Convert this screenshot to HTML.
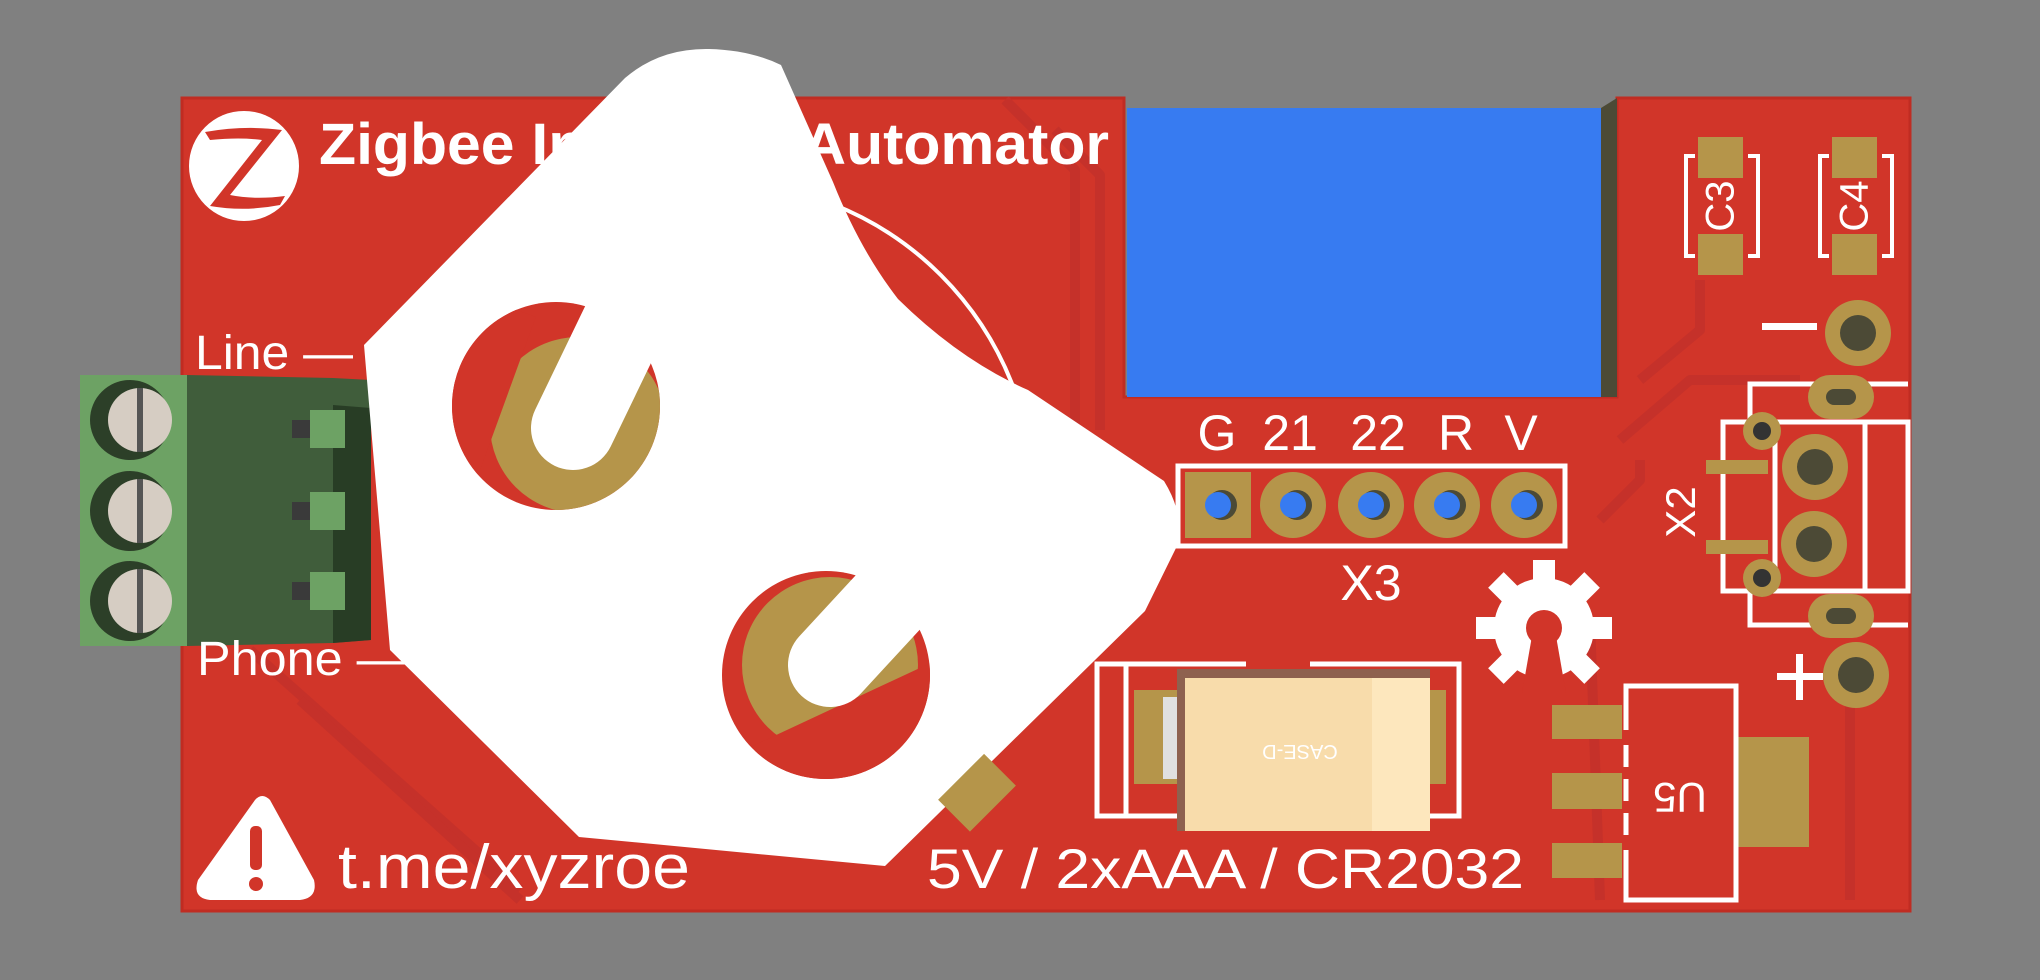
<!DOCTYPE html>
<html><head><meta charset="utf-8"><style>
html,body{margin:0;padding:0;background:#808080;}
svg{display:block;}
text{font-family:"Liberation Sans",sans-serif;fill:#fff;}
</style></head><body>
<svg width="2040" height="980" viewBox="0 0 2040 980" xmlns="http://www.w3.org/2000/svg">
<defs>
<clipPath id="h1"><circle cx="556" cy="406" r="104"/></clipPath>
<clipPath id="h2"><circle cx="826" cy="675" r="104"/></clipPath>
</defs>
<rect width="2040" height="980" fill="#808080"/>
<!-- board -->
<path d="M182,98 L1124,98 L1124,397 L1617,397 L1617,98 L1910,98 L1910,911 L182,911 Z" fill="#d13529" stroke="#c02c22" stroke-width="3"/>
<!-- traces -->
<g fill="none" stroke="#c5312a" stroke-width="10" stroke-linejoin="round">
<path d="M1005,100 L1075,170 L1075,520 L1020,575"/>
<path d="M1055,130 L1100,175 L1100,430"/>
<path d="M1640,380 L1700,330 L1700,280"/>
<path d="M1620,440 L1690,380 L1800,380"/>
<path d="M1600,520 L1640,480 L1640,460"/>
<path d="M250,650 L520,890"/>
<path d="M300,700 L520,900"/>
<path d="M1590,620 L1600,900"/>
<path d="M1850,700 L1850,900"/>
</g>
<!-- blue module -->
<rect x="1127" y="108" width="474" height="289" fill="#377bf1"/>
<polygon points="1601,108 1617,98 1617,397 1601,397" fill="#4c4a36"/>
<!-- silkscreen ring -->
<circle cx="716" cy="500" r="318" fill="none" stroke="#fff" stroke-width="4"/>
<!-- terminal block -->
<rect x="80" y="375" width="107" height="271" fill="#6da264"/>
<polygon points="187,375 333,378 371,380 371,640 333,643 187,646" fill="#405d3b"/>
<polygon points="333,405 371,408 371,640 333,643" fill="#283d25"/>
<g>
<circle cx="130" cy="420" r="40" fill="#2c3f28"/><circle cx="140" cy="420" r="32" fill="#d6cdc3"/><rect x="137" y="388" width="6" height="64" fill="#555"/>
<circle cx="130" cy="511" r="40" fill="#2c3f28"/><circle cx="140" cy="511" r="32" fill="#d6cdc3"/><rect x="137" y="479" width="6" height="64" fill="#555"/>
<circle cx="130" cy="601" r="40" fill="#2c3f28"/><circle cx="140" cy="601" r="32" fill="#d6cdc3"/><rect x="137" y="569" width="6" height="64" fill="#555"/>
</g>
<g fill="#6da264"><rect x="310" y="410" width="35" height="38"/><rect x="310" y="492" width="35" height="38"/><rect x="310" y="572" width="35" height="38"/></g>
<g fill="#3a3a3a"><rect x="292" y="420" width="18" height="18"/><rect x="292" y="502" width="18" height="18"/><rect x="292" y="582" width="18" height="18"/></g>
<!-- zigbee logo -->
<circle cx="244" cy="166" r="55" fill="#fff"/>
<path d="M205,132 Q245,125 282,130 L230,195 Q255,200 285,196 L280,205 Q245,212 210,206 L262,140 Q240,137 210,140 Z" fill="#d13529"/>
<!-- texts -->
<text x="319" y="164" font-size="58" font-weight="bold" textLength="790" lengthAdjust="spacingAndGlyphs">Zigbee Intercom Automator</text>
<text x="195" y="369" font-size="48" textLength="158" lengthAdjust="spacingAndGlyphs">Line —</text>
<text x="197" y="675" font-size="48" textLength="210" lengthAdjust="spacingAndGlyphs">Phone —</text>
<!-- warning -->
<path d="M255,800 Q262,792 270,800 L314,880 Q318,898 300,900 L210,900 Q192,898 198,880 Z" fill="#fff"/>
<rect x="250" y="826" width="12" height="44" rx="5" fill="#d13529"/>
<circle cx="256" cy="884" r="7" fill="#d13529"/>
<text x="338" y="888" font-size="62" textLength="352" lengthAdjust="spacingAndGlyphs">t.me/xyzroe</text>
<text x="927" y="888" font-size="56" textLength="597" lengthAdjust="spacingAndGlyphs">5V / 2xAAA / CR2032</text>
<!-- white bracket -->
<path d="M364,345 L625,78 Q660,48 709,49 Q750,50 781,65 L833,182 Q860,250 898,299 Q960,360 1028,390 L1164,481 Q1185,515 1177,546 L1145,611 L885,866 L579,837 L390,650 Z" fill="#fff"/>
<!-- holes -->
<circle cx="556" cy="406" r="104" fill="#d13529"/>
<g clip-path="url(#h1)"><circle cx="578" cy="425" r="88" fill="#b5954a"/><rect x="440" y="300" width="60" height="220" fill="#d13529" transform="rotate(20 470 410)"/></g>
<circle cx="826" cy="675" r="104" fill="#d13529"/>
<g clip-path="url(#h2)"><circle cx="830" cy="665" r="88" fill="#b5954a"/><rect x="760" y="700" width="200" height="100" fill="#d13529" transform="rotate(-25 860 740)"/></g>
<g stroke="#fff" stroke-width="84" stroke-linecap="round">
<line x1="573" y1="428" x2="683" y2="200"/>
<line x1="830" y1="665" x2="1010" y2="470"/>
</g>
<!-- X3 header -->
<rect x="1178" y="466" width="387" height="80" fill="none" stroke="#fff" stroke-width="5"/>
<rect x="1185" y="472" width="66" height="66" fill="#b5954a"/>
<g fill="#b5954a"><circle cx="1293" cy="505" r="33"/><circle cx="1371" cy="505" r="33"/><circle cx="1447" cy="505" r="33"/><circle cx="1524" cy="505" r="33"/></g>
<g fill="#4c4a36"><circle cx="1222" cy="505" r="15"/><circle cx="1297" cy="505" r="15"/><circle cx="1375" cy="505" r="15"/><circle cx="1451" cy="505" r="15"/><circle cx="1528" cy="505" r="15"/></g>
<g fill="#377bf1"><circle cx="1218" cy="505" r="13"/><circle cx="1293" cy="505" r="13"/><circle cx="1371" cy="505" r="13"/><circle cx="1447" cy="505" r="13"/><circle cx="1524" cy="505" r="13"/></g>
<g font-size="50" text-anchor="middle"><text x="1217" y="450">G</text><text x="1290" y="450">21</text><text x="1378" y="450">22</text><text x="1456" y="450">R</text><text x="1521" y="450">V</text><text x="1371" y="600">X3</text></g>
<!-- C3 C4 -->
<g fill="#b5954a"><rect x="1698" y="137" width="45" height="41"/><rect x="1698" y="234" width="45" height="41"/><rect x="1832" y="137" width="45" height="41"/><rect x="1832" y="234" width="45" height="41"/></g>
<g fill="none" stroke="#fff" stroke-width="4">
<path d="M1695,156 H1686 V256 H1695 M1748,156 H1758 V256 H1748"/>
<path d="M1829,156 H1820 V256 H1829 M1882,156 H1892 V256 H1882"/>
</g>
<text x="1723" y="206" font-size="40" text-anchor="middle" dominant-baseline="middle" transform="rotate(-90 1723 206)">C3</text>
<text x="1857" y="206" font-size="40" text-anchor="middle" dominant-baseline="middle" transform="rotate(-90 1857 206)">C4</text>
<!-- X2 -->
<rect x="1762" y="323" width="55" height="7" fill="#fff"/>
<rect x="1796" y="654" width="7" height="46" fill="#fff"/><rect x="1777" y="673" width="46" height="7" fill="#fff"/>
<circle cx="1858" cy="333" r="33" fill="#b5954a"/><circle cx="1858" cy="333" r="18" fill="#4c4a36"/>
<circle cx="1856" cy="675" r="33" fill="#b5954a"/><circle cx="1856" cy="675" r="18" fill="#4c4a36"/>
<g fill="none" stroke="#fff" stroke-width="5">
<path d="M1750,420 V384 H1908"/><path d="M1750,590 V625 H1908"/>
<rect x="1723" y="422" width="185" height="169"/>
<line x1="1775" y1="422" x2="1775" y2="591"/><line x1="1865" y1="422" x2="1865" y2="591"/>
</g>
<g fill="#b5954a"><rect x="1706" y="460" width="62" height="14"/><rect x="1706" y="540" width="62" height="14"/></g>
<rect x="1808" y="375" width="66" height="44" rx="22" fill="#b5954a"/><rect x="1826" y="389" width="30" height="16" rx="8" fill="#4c4a36"/>
<rect x="1808" y="594" width="66" height="44" rx="22" fill="#b5954a"/><rect x="1826" y="608" width="30" height="16" rx="8" fill="#4c4a36"/>
<circle cx="1815" cy="467" r="33" fill="#b5954a"/><circle cx="1815" cy="467" r="18" fill="#4c4a36"/>
<circle cx="1814" cy="544" r="33" fill="#b5954a"/><circle cx="1814" cy="544" r="18" fill="#4c4a36"/>
<circle cx="1762" cy="431" r="19" fill="#b5954a"/><circle cx="1762" cy="431" r="9" fill="#333"/>
<circle cx="1762" cy="578" r="19" fill="#b5954a"/><circle cx="1762" cy="578" r="9" fill="#333"/>
<text x="1684" y="512" font-size="42" text-anchor="middle" dominant-baseline="middle" transform="rotate(-90 1684 512)">X2</text>
<!-- gear -->
<g transform="translate(1544,628)" fill="#fff">
<circle r="50"/>
<g><rect x="-11" y="-68" width="22" height="30"/><rect x="-11" y="-68" width="22" height="30" transform="rotate(45)"/><rect x="-11" y="-68" width="22" height="30" transform="rotate(90)"/><rect x="-11" y="-68" width="22" height="30" transform="rotate(135)"/><rect x="-11" y="-68" width="22" height="30" transform="rotate(-45)"/><rect x="-11" y="-68" width="22" height="30" transform="rotate(-90)"/><rect x="-11" y="-68" width="22" height="30" transform="rotate(-135)"/></g>
<circle r="18" fill="#d13529"/><polygon points="-12,8 12,8 22,65 -22,65" fill="#d13529"/>
</g>
<!-- tantalum cap -->
<g fill="none" stroke="#fff" stroke-width="5"><path d="M1246,664 H1097 V816 H1179"/><path d="M1310,664 H1459 V816 H1430"/><line x1="1126" y1="664" x2="1126" y2="816"/></g>
<rect x="1134" y="690" width="45" height="94" fill="#b5954a"/>
<rect x="1424" y="690" width="22" height="94" fill="#b5954a"/>
<rect x="1163" y="697" width="16" height="82" fill="#e0e0e0"/>
<polygon points="1177,669 1430,669 1430,678 1185,678 1185,831 1177,831" fill="#8e614f"/>
<rect x="1185" y="678" width="245" height="153" fill="#f8dcab"/>
<rect x="1372" y="678" width="58" height="153" fill="#fde7bd"/>
<text x="1300" y="759" font-size="20" text-anchor="middle" transform="rotate(180 1300 752)">CASE-D</text>
<!-- diag gold pad -->
<rect x="955" y="760" width="45" height="65" fill="#b5954a" transform="rotate(45 977 792)"/>
<!-- U5 -->
<g fill="#b5954a"><rect x="1552" y="705" width="70" height="34"/><rect x="1552" y="773" width="70" height="36"/><rect x="1552" y="843" width="70" height="35"/><rect x="1738" y="737" width="71" height="110"/></g>
<path d="M1626,730 V686 H1736 V900 H1626 V850" fill="none" stroke="#fff" stroke-width="5"/>
<line x1="1626" y1="745" x2="1626" y2="835" stroke="#fff" stroke-width="5" stroke-dasharray="22 12"/>
<text x="1680" y="794" font-size="42" text-anchor="middle" dominant-baseline="middle" transform="rotate(180 1680 794)">U5</text>
</svg>
</body></html>
